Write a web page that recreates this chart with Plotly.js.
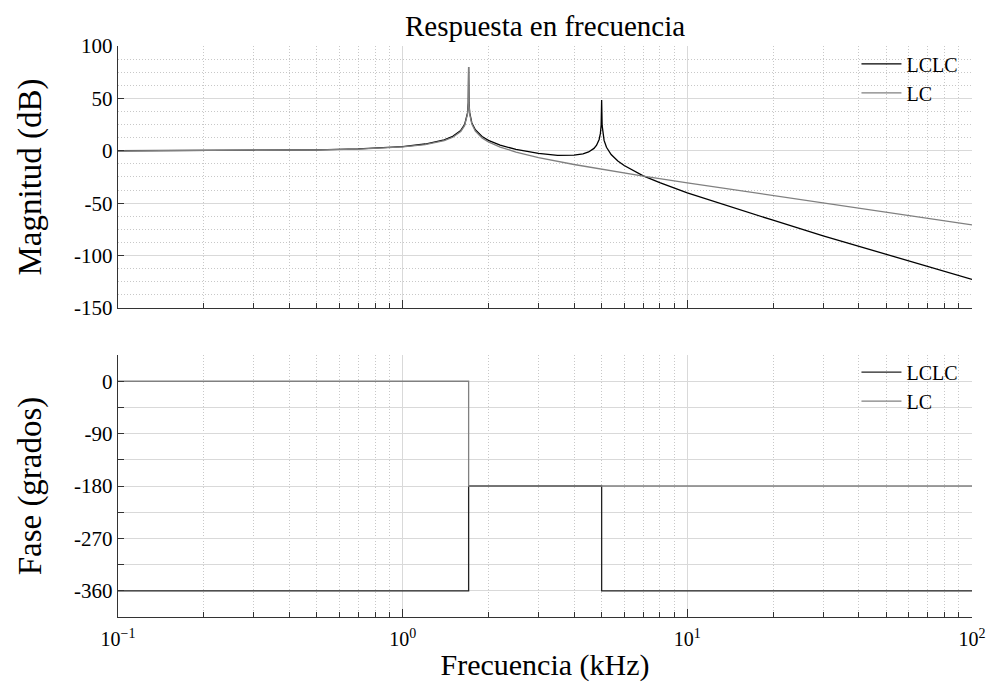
<!DOCTYPE html>
<html>
<head>
<meta charset="utf-8">
<script src="https://cdn.plot.ly/plotly-3.0.1.min.js"></script>
<style>html,body{margin:0;padding:0;background:#fff;}#chart{width:988px;height:682px;}</style>
</head>
<body>
<div id="chart"></div>
<script>
// Frequency (kHz) samples
const freqLC = [0.1,0.2,0.3,0.5,0.7,0.8,1.0,1.2,1.4,1.5,1.6,1.65,1.68,1.69,1.70,1.705,1.71,1.72,1.75,1.8,1.9,2.0,2.2,2.5,3.0,4.0,5.0,7.0,10,20,30,50,70,100];
const magLC  = [0.0,0.12,0.27,0.78,1.6,2.16,3.66,5.94,9.74,12.92,18.46,23.94,30.72,35.13,44.6,80,44.6,35.05,25.43,18.82,12.33,8.5,3.55,-1.21,-6.43,-13.07,-17.62,-24.26,-30.58,-42.74,-49.8,-58.68,-64.53,-70.73];

const freqLCLC = [0.1,0.2,0.3,0.5,0.7,0.8,1.0,1.2,1.4,1.5,1.6,1.65,1.68,1.69,1.70,1.705,1.71,1.72,1.75,1.8,1.9,2.0,2.2,2.5,3.0,3.5,4.0,4.3,4.5,4.7,4.8,4.9,4.95,4.98,5.0,5.02,5.05,5.1,5.2,5.4,5.7,6.0,7.0,8.0,10,15,20,30,50,70,100];
const magLCLC  = [0.03,0.13,0.31,0.87,1.77,2.39,4.01,6.46,10.45,13.74,19.4,24.94,31.76,36.18,45.7,80,45.7,36.14,26.57,20.03,13.69,10.0,5.42,1.29,-2.55,-4.29,-4.2,-2.89,-1.09,2.29,5.3,10.83,16.6,24.4,48.5,24.2,16.1,9.9,3.38,-3.54,-9.69,-14.0,-23.9,-30.31,-40.12,-55.75,-66.26,-81.16,-98.59,-110.42,-122.75];

const phaseFreqLC = [0.1,1.705,1.705,100];
const phaseLC     = [0,0,-180,-180];
const phaseFreqLCLC = [0.1,1.705,1.705,5.0,5.0,100];
const phaseLCLC     = [-360,-360,-180,-180,-360,-360];

const xTickVals = [0.1,1,10,100];
const xTickText = ['10<sup>−1</sup>','10<sup>0</sup>','10<sup>1</sup>','10<sup>2</sup>'];
const xMinorVals = [0.2,0.3,0.4,0.5,0.6,0.7,0.8,0.9,2,3,4,5,6,7,8,9,20,30,40,50,60,70,80,90];
const magTickVals = [-150,-100,-50,0,50,100];
const magTickText = ['-150','-100','-50','0','50','100'];
const phTickVals = [-360,-270,-180,-90,0];
const phTickText = ['-360','-270','-180','-90','0'];
const phMidVals = [-405,-315,-225,-135,-45,45];
const phDotVals = [-382.5,-337.5,-292.5,-247.5,-202.5,-157.5,-112.5,-67.5,-22.5,22.5];

const FONT = 'Liberation Serif, DejaVu Serif, serif';
const BLACK = '#000000', GRAY = '#808080';

const traces = [
  {x:freqLCLC, y:magLCLC, name:'LCLC', mode:'lines', line:{color:BLACK,width:1.3}, xaxis:'x', yaxis:'y', legend:'legend'},
  {x:freqLC, y:magLC, name:'LC', mode:'lines', line:{color:GRAY,width:1.3}, xaxis:'x', yaxis:'y', legend:'legend'},
  {x:phaseFreqLCLC, y:phaseLCLC, name:'LCLC', mode:'lines', line:{color:'#222',width:1.3}, xaxis:'x2', yaxis:'y2', legend:'legend2'},
  {x:phaseFreqLC, y:phaseLC, name:'LC', mode:'lines', line:{color:GRAY,width:1.3}, xaxis:'x2', yaxis:'y2', legend:'legend2'}
];

const gridMajor = '#d9d9d9';
const gridDot = '#c8c8c8';
const DOT = '1px,2px';
const minorCfg = {tickmode:'array', tickvals:xMinorVals, ticks:'inside', ticklen:5, tickcolor:'#333', showgrid:true, gridcolor:gridDot, griddash:DOT, gridwidth:1};

function xAxis(domainAnchor, showLabels){
  return {
    type:'log', range:[-1,2], anchor:domainAnchor,
    tickmode:'array', tickvals:xTickVals, ticktext:xTickText, showticklabels:showLabels,
    ticks:'inside', ticklen:8, tickcolor:'#333',
    showgrid:true, gridcolor:gridMajor, gridwidth:1,
    showline:true, linecolor:'#333', linewidth:1.3, zeroline:false,
    minor:minorCfg, ticklabelstandoff:4,
    tickfont:{family:FONT,size:20,color:'#000'}
  };
}

const layout = {
  width:988, height:682,
  margin:{l:118, r:16, t:46, b:65},
  paper_bgcolor:'#fff', plot_bgcolor:'#fff',
  font:{family:FONT, color:'#000'},
  showlegend:true,
  title:{text:'Respuesta en frecuencia', x:0.5517, xanchor:'center', y:0.962, yanchor:'middle', font:{family:FONT,size:29,color:'#000'}},
  xaxis: Object.assign(xAxis('y', false), {domain:[0,1]}),
  xaxis2: Object.assign(xAxis('y2', true), {domain:[0,1], title:{text:'Frecuencia (kHz)', font:{family:FONT,size:30,color:'#000'}, standoff:4}}),
  yaxis: {
    domain:[0.5412,1], range:[-150,100], anchor:'x',
    tickmode:'array', tickvals:magTickVals, ticktext:magTickText,
    ticks:'inside', ticklen:6, tickcolor:'#333', ticklabelstandoff:0,
    showgrid:true, gridcolor:gridMajor, showline:true, linecolor:'#333', linewidth:1.3, zeroline:false,
    minor:{dtick:12.5, tick0:0, showgrid:true, gridcolor:gridDot, griddash:DOT, ticks:''},
    tickfont:{family:FONT,size:21,color:'#000'},
    title:{text:'Magnitud (dB)', font:{family:FONT,size:33,color:'#000'}, standoff:22}
  },
  yaxis2: {
    domain:[0,0.4588], range:[-405,45], anchor:'x2',
    tickmode:'array', tickvals:phTickVals, ticktext:phTickText,
    ticks:'inside', ticklen:6, tickcolor:'#333', ticklabelstandoff:0,
    showgrid:true, gridcolor:gridMajor, showline:true, linecolor:'#333', linewidth:1.3, zeroline:false,
    minor:{tickmode:'array', tickvals:phMidVals, showgrid:true, gridcolor:gridMajor, griddash:'solid', ticks:'inside', ticklen:6, tickcolor:'#333'},
    tickfont:{family:FONT,size:21,color:'#000'},
    title:{text:'Fase (grados)', font:{family:FONT,size:33,color:'#000'}, standoff:22}
  },
  yaxis3: {
    domain:[0,0.4588], range:[-405,45], anchor:'x2', overlaying:'y2', side:'left',
    tickmode:'array', tickvals:phDotVals, showticklabels:false, ticks:'',
    showgrid:true, gridcolor:gridDot, griddash:DOT, showline:false, zeroline:false
  },
  legend:{x:0.99, xanchor:'right', y:1.003, yanchor:'top', bgcolor:'rgba(0,0,0,0)', font:{family:FONT,size:20,color:'#000'}, tracegroupgap:0, itemwidth:40},
  legend2:{x:0.99, xanchor:'right', y:0.463, yanchor:'top', bgcolor:'rgba(0,0,0,0)', font:{family:FONT,size:20,color:'#000'}, tracegroupgap:0, itemwidth:40}
};

Plotly.newPlot('chart', traces, layout, {displayModeBar:false, staticPlot:true});
</script>
</body>
</html>
